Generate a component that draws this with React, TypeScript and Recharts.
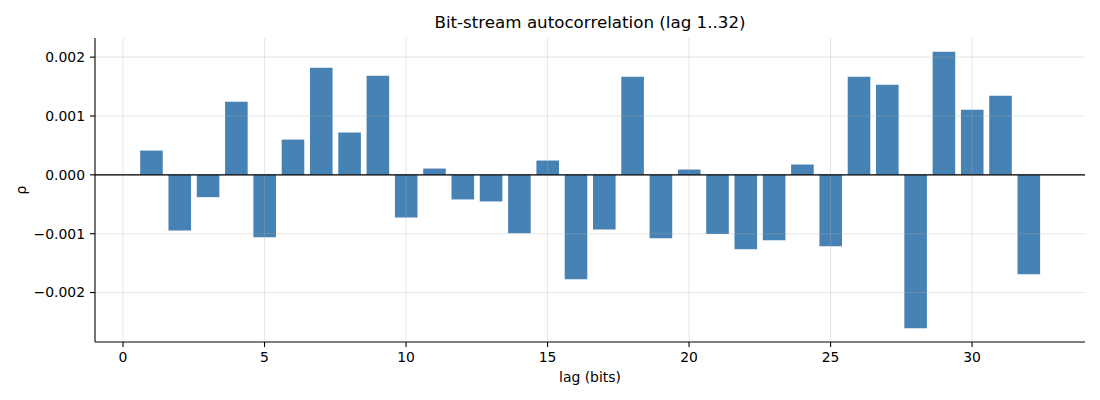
import React from "react";
import { BarChart, Bar, XAxis, YAxis, ReferenceLine } from "recharts";

const lags = [1, 2, 3, 4, 5, 6, 7, 8, 9, 10, 11, 12, 13, 14, 15, 16, 17, 18, 19, 20, 21, 22, 23, 24, 25, 26, 27, 28, 29, 30, 31, 32];
const rho = [
  0.000412, -0.000944, -0.000379, 0.001243, -0.001062, 0.000599, 0.001819, 0.000718,
  0.001684, -0.000723, 0.000107, -0.000418, -0.000452, -0.000994, 0.000243, -0.001774,
  -0.000927, 0.001667, -0.001079, 0.00009, -0.001006, -0.001266, -0.001113, 0.000175,
  -0.001215, 0.001667, 0.001531, -0.002605, 0.00209, 0.001107, 0.001345, -0.001689,
];
const xTicks = [0, 5, 10, 15, 20, 25, 30];
const yTicks = [-0.002, -0.001, 0, 0.001, 0.002];
const xDomain = [-0.99, 33.99];
const yDomain = [-0.00284, 0.002325];

const data = lags.map((lag, i) => ({ lag, rho: rho[i] }));

const FONT = "DejaVu Sans, sans-serif";
const GRID = "#b0b0b0";

const fmtY = (v: number) => {
  const s = Math.abs(v).toFixed(3);
  return v < -1e-12 ? "\u2212" + s : s;
};

export default function App() {
  return (
    <div style={{ position: "absolute", left: 0, top: 0, width: 1100, height: 400, background: "#fff" }}>
      <div
        style={{
          position: "absolute",
          left: 95,
          width: 990,
          top: 12,
          textAlign: "center",
          fontFamily: FONT,
          fontSize: 16.7,
          lineHeight: "20px",
          color: "#000",
        }}
      >
        Bit-stream autocorrelation (lag 1..32)
      </div>
      <BarChart
        width={1100}
        height={400}
        data={data}
        margin={{ top: 38, right: 15, bottom: 0, left: 0 }}
        style={{ position: "absolute", left: 0, top: 0 }}
      >
        <XAxis
          dataKey="lag"
          type="number"
          domain={xDomain}
          ticks={xTicks}
          allowDataOverflow
          height={58}
          tickSize={5}
          tickMargin={5}
          stroke="#000"
          strokeWidth={1.1}
          tick={{ fill: "#000", fontFamily: FONT, fontSize: 13.9 }}
          label={() => (
            <text x={590} y={382} textAnchor="middle" fontFamily={FONT} fontSize={13.9} fill="#000">
              lag (bits)
            </text>
          )}
        />
        <YAxis
          type="number"
          domain={yDomain}
          ticks={yTicks}
          allowDataOverflow
          width={95}
          tickSize={5}
          tickMargin={5}
          stroke="#000"
          strokeWidth={1.1}
          tickFormatter={fmtY}
          tick={{ fill: "#000", fontFamily: FONT, fontSize: 13.9 }}
          label={() => (
            <text
              x={26}
              y={190}
              transform="rotate(-90 26 190)"
              textAnchor="middle"
              fontFamily={FONT}
              fontSize={13.9}
              fill="#000"
            >
              ρ
            </text>
          )}
        />
        <Bar dataKey="rho" fill="#4682b4" barSize={22.6} isAnimationActive={false} />
        {xTicks.map((t) => (
          <ReferenceLine key={"gx" + t} x={t} stroke={GRID} strokeOpacity={0.3} strokeWidth={1.1} />
        ))}
        {yTicks.map((t) => (
          <ReferenceLine key={"gy" + t} y={t} stroke={GRID} strokeOpacity={0.3} strokeWidth={1.1} />
        ))}
        <ReferenceLine y={0} stroke="#000" strokeWidth={1.1} />
      </BarChart>
    </div>
  );
}
